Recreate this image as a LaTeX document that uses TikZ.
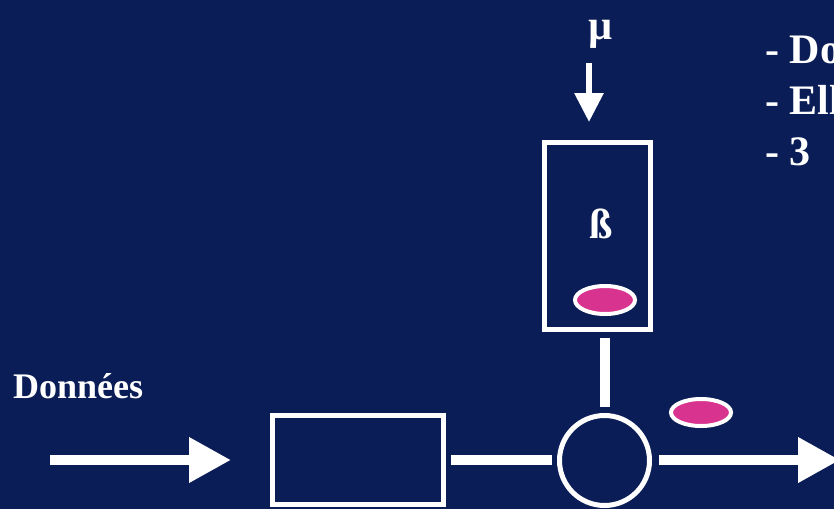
\documentclass[tikz,border=0pt]{standalone}
\usepackage{fontspec}
\setmainfont{Liberation Serif}
\usetikzlibrary{arrows.meta,shapes.geometric,calc}
\definecolor{navy}{HTML}{0A1D57}
\definecolor{pinkfill}{HTML}{D8338F}
\begin{document}
\begin{tikzpicture}[x=1pt,y=-1pt,
  box/.style={draw=white,line width=5pt,inner sep=0pt,rectangle},
  ring/.style={draw=white,line width=5pt,inner sep=0pt,circle},
  token/.style={draw=white,fill=pinkfill,line width=4pt,inner sep=0pt,ellipse,minimum width=60pt,minimum height=28pt},
  wire/.style={white,line width=10pt},
  bigarrow/.style={white,line width=10pt,-{Triangle[length=42pt,width=43pt]}},
  smallarrow/.style={white,line width=6pt,-{Triangle[length=29pt,width=28pt]}},
  lbl/.style={text=white,inner sep=0pt,font=\bfseries\fontsize{42}{50}\selectfont},
]
\useasboundingbox (0,0) rectangle (834,509);
\clip (0,0) rectangle (834,509);
\fill[navy] (0,0) rectangle (834,509);

% nodes
\node[box,minimum width=171pt,minimum height=89pt] (r1) at (357.5,460) {};
\node[ring,minimum size=90pt] (c) at (604.5,460.5) {};
\node[box,minimum width=106pt,minimum height=186.5pt] (b) at (597.5,236.2) {};
\node[token] (e1) at (605,300) {};
\node[token,minimum height=27pt] (e2) at (701,412.5) {};

% texts
\node[lbl,anchor=base west,font=\bfseries\fontsize{36}{43}\selectfont] (donnees) at (13,398) {Données};
\node[lbl,anchor=base] (mu) at (601,39) {µ};
\node[lbl,anchor=base] (beta) at (601,238) {ß};
\node[lbl,anchor=base west] (t1) at (765,63) {- Do};
\node[lbl,anchor=base west] (t2) at (765,114) {- Ell};
\node[lbl,anchor=base west] (t3) at (765,165) {- 3};

% connectors
\coordinate (inStart) at (50,460);
\coordinate (inEnd) at (231,460);
\coordinate (outEnd) at (840,460);
\coordinate (muStart) at (589,63);
\coordinate (muEnd) at (589,122);

\draw[bigarrow] (inStart) -- (inEnd);
\draw[wire,shorten <=5.5pt,shorten >=5pt] (r1.east) -- (r1.east -| c.west);
\draw[wire,shorten <=6pt,shorten >=6pt] (c.north) -- (c.north |- b.south);
\draw[bigarrow,shorten <=7pt] (c.east |- outEnd) -- (outEnd);
\draw[smallarrow] (muStart) -- (muEnd);
\end{tikzpicture}
\end{document}
